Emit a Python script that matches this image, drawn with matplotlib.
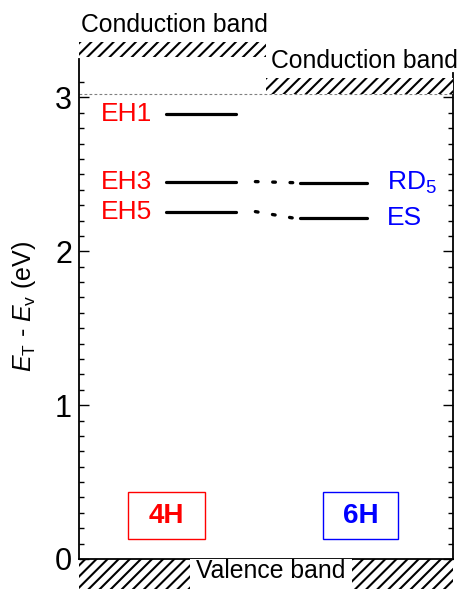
import matplotlib
matplotlib.use('Agg')
import matplotlib.pyplot as plt
from matplotlib.patches import Rectangle

plt.rcParams['font.family'] = ['Liberation Sans', 'DejaVu Sans']
plt.rcParams['mathtext.fontset'] = 'custom'
plt.rcParams['mathtext.rm'] = 'Liberation Sans'
plt.rcParams['mathtext.it'] = 'Liberation Sans:italic'
plt.rcParams['hatch.linewidth'] = 1.5
plt.rcParams['hatch.color'] = 'black'

# band gaps (eV)
gap_4h = 3.26
gap_6h = 3.02

# trap levels E_T - E_v (eV)
labels_4h = ['EH1', 'EH3', 'EH5']
levels_4h = [2.893, 2.453, 2.258]
labels_6h = ['RD$_5$', 'ES']
levels_6h = [2.446, 2.215]
# which 4H level corresponds to which 6H level
pairs = [(1, 0), (2, 1)]

RED, BLUE = '#ff0000', '#0000ff'

fig = plt.figure(figsize=(4.61, 5.89), dpi=100)
ax = fig.add_axes([79 / 461, 30 / 589, 373.7 / 461, 0.8484])
ax.set_xlim(0, 1)
ax.set_ylim(0, 3.248)

# spines / ticks
ax.spines['top'].set_visible(False)
ax.spines['right'].set_bounds(0, 3.16)
for s in ['left', 'right', 'bottom']:
    ax.spines[s].set_linewidth(1.3)
ax.set_xticks([])
ax.set_yticks([0, 1, 2, 3])
ax.set_yticks([i / 10 for i in range(0, 32)], minor=True)
ax.tick_params(axis='y', which='both', direction='in', left=True, right=True, width=1.0)
ax.tick_params(axis='y', which='major', length=7, labelsize=22, pad=5)
ax.tick_params(axis='y', which='minor', length=3.6)

# conduction bands
ax.add_patch(Rectangle((0, gap_4h), 0.5, 0.1, facecolor='white', edgecolor='black',
                       lw=0, hatch='///', clip_on=False))
ax.add_patch(Rectangle((0.5, gap_6h), 0.5, 0.107, facecolor='white', edgecolor='black',
                       lw=0, hatch='///', clip_on=False, zorder=3))
ax.axhline(gap_6h, color='0.5', lw=0.8, ls=(0, (2.5, 2)), zorder=1)
ax.text(0.2555, 3.428, 'Conduction band', ha='center', va='baseline', fontsize=17.8)
ax.text(0.764, 3.19, 'Conduction band', ha='center', va='baseline', fontsize=17.8)

# valence band
ax.add_patch(Rectangle((0, -0.3), 1, 0.3, facecolor='white', edgecolor='black',
                       lw=0, hatch='///', clip_on=False))
ax.add_patch(Rectangle((0.297, -0.3), 0.433, 0.3, facecolor='white', edgecolor='none',
                       clip_on=False, zorder=3))
ax.text(0.514, -0.124, 'Valence band', ha='center', va='baseline', fontsize=17.8,
        zorder=4, clip_on=False)

# 4H levels
for lab, y in zip(labels_4h, levels_4h):
    ax.plot([0.232, 0.421], [y, y], color='black', lw=2.3, solid_capstyle='round')
    ax.text(0.127, y, lab, color=RED, ha='center', va='center', fontsize=19)

# 6H levels
for lab, y in zip(labels_6h, levels_6h):
    ax.plot([0.591, 0.771], [y, y], color='black', lw=2.3, solid_capstyle='round')
    ax.text(0.823, y, lab, color=BLUE, ha='left', va='center', fontsize=19)

# dotted connectors
for i4, i6 in pairs:
    ax.plot([0.472, 0.576], [levels_4h[i4], levels_6h[i6]], color='black', lw=2.4,
            ls=(0, (0.8, 4.4)), dash_capstyle='round')

# polytype boxes
ax.add_patch(Rectangle((0.131, 0.129), 0.206, 0.306, facecolor='none', edgecolor=RED, lw=1))
ax.text(0.234, 0.282, '4H', color=RED, ha='center', va='center', fontsize=20,
        fontweight='bold')
ax.add_patch(Rectangle((0.653, 0.129), 0.201, 0.306, facecolor='none', edgecolor=BLUE, lw=1))
ax.text(0.753, 0.282, '6H', color=BLUE, ha='center', va='center', fontsize=20,
        fontweight='bold')

fig.text(23.5 / 461, 0.4805, r'$E_\mathrm{T}$ - $E_\mathrm{v}$ (eV)', rotation=90,
         ha='center', va='center', fontsize=18)

fig.savefig('out.png', dpi=100)
